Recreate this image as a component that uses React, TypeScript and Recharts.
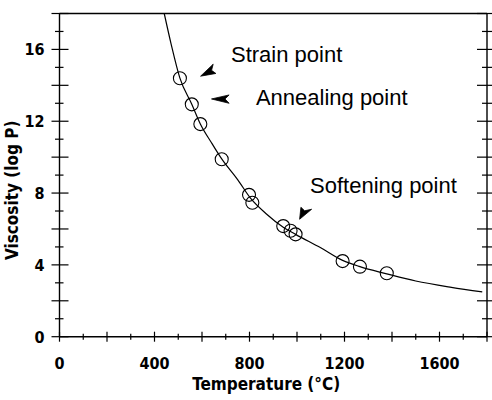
import { ComposedChart, Line, Scatter, XAxis, YAxis, ReferenceDot } from "recharts";

// axis ticks (every 100 °C / every 1 log P), labels on every 400 / 4
const xTicks = [0, 100, 200, 300, 400, 500, 600, 700, 800, 900, 1000, 1100, 1200, 1300, 1400, 1500, 1600, 1700, 1800];
const yTicks = [0, 1, 2, 3, 4, 5, 6, 7, 8, 9, 10, 11, 12, 13, 14, 15, 16, 17, 18];
const xLabels = [0, 400, 800, 1200, 1600];
const yLabels = [0, 4, 8, 12, 16];

// fitted curve
const curveT = [441, 470, 507, 557, 593, 640, 683, 750, 805, 870, 942, 994, 1100, 1192, 1265, 1378, 1500, 1650, 1780];
const curveV = [18, 16.3, 14.4, 12.95, 11.85, 10.8, 9.9, 8.75, 7.7, 6.85, 6.1, 5.7, 4.95, 4.25, 3.9, 3.5, 3.1, 2.75, 2.5];

// measured points
const pointT = [507, 557, 593, 683, 798, 812, 942, 973, 994, 1192, 1265, 1378];
const pointV = [14.39, 12.94, 11.84, 9.88, 7.9, 7.46, 6.16, 5.9, 5.7, 4.21, 3.9, 3.53];

const curve = curveT.map((t, i) => ({ t, v: curveV[i] }));
const points = pointT.map((t, i) => ({ t, v: pointV[i] }));

const tickFont = { fontFamily: "DejaVu Sans Condensed", fontSize: 16, fontWeight: 700 };
const noteFont = { fontFamily: "Liberation Sans", fontSize: 22 };

const BottomTick = (p: any) => {
  const v = p.payload.value;
  const h = v % 200 === 0 ? 5 : 3;
  return (
    <g>
      <line x1={p.x} x2={p.x} y1={p.y - h} y2={p.y + h} stroke="#000" strokeWidth={1.2} />
      {xLabels.includes(v) && (
        <text x={p.x} y={p.y + 32} textAnchor="middle" fill="#000" {...tickFont}>{v}</text>
      )}
    </g>
  );
};

const TopTick = (p: any) => {
  const v = p.payload.value;
  const h = v % 200 === 0 ? 6 : 3;
  return <line x1={p.x} x2={p.x} y1={p.y - h} y2={p.y + h} stroke="#000" strokeWidth={1.2} />;
};

const LeftTick = (p: any) => {
  const v = p.payload.value;
  const major = v % 2 === 0;
  return (
    <g>
      <line x1={p.x - (major ? 8 : 4.5)} x2={p.x + (major ? 9 : 4)} y1={p.y} y2={p.y} stroke="#000" strokeWidth={1.2} />
      {yLabels.includes(v) && (
        <text x={p.x - 15} y={p.y + 6} textAnchor="end" fill="#000" {...tickFont}>{v}</text>
      )}
    </g>
  );
};

const RightTick = (p: any) => {
  const v = p.payload.value;
  const major = v % 2 === 0;
  return <line x1={p.x - (major ? 10 : 5)} x2={p.x + 5} y1={p.y} y2={p.y} stroke="#000" strokeWidth={1.2} />;
};

const Ring = (p: any) => (
  <circle cx={p.cx} cy={p.cy} r={6.5} fill="none" stroke="#000" strokeWidth={1.1} />
);

const note = (label: string) => (p: any) => (
  <text x={p.cx} y={p.cy} fill="#000" {...noteFont}>{label}</text>
);

const arrow = (d: string) => (p: any) => (
  <path d={d} transform={`translate(${p.cx},${p.cy})`} fill="#000" stroke="#000" strokeWidth={0.8} />
);

export default function App() {
  return (
    <div style={{ position: "absolute", left: 0, top: 0, background: "#fff" }}>
      <ComposedChart width={492} height={400} margin={{ top: 0, right: 0, bottom: 0, left: 0 }}>
        <XAxis xAxisId="b" dataKey="t" type="number" domain={[0, 1800]} ticks={xTicks} interval={0}
          height={63.3} tickSize={0} tickMargin={0} tickLine={false} tick={<BottomTick />}
          axisLine={{ stroke: "#000", strokeWidth: 1.4 }} allowDataOverflow
          label={{ value: "Temperature (°C)", position: "insideBottom", offset: 10, dx: -7, fill: "#000", ...tickFont, fontSize: 17 }} />
        <XAxis xAxisId="t" orientation="top" type="number" domain={[0, 1800]} ticks={xTicks} interval={0}
          height={13.5} tickSize={0} tickMargin={0} tickLine={false} tick={<TopTick />}
          axisLine={{ stroke: "#000", strokeWidth: 1.4 }} allowDataOverflow />
        <YAxis yAxisId="l" dataKey="v" type="number" domain={[0, 18]} ticks={yTicks} interval={0}
          width={59.5} tickSize={0} tickMargin={0} tickLine={false} tick={<LeftTick />}
          axisLine={{ stroke: "#000", strokeWidth: 1.4 }} allowDataOverflow
          label={{ value: "Viscosity (log P)", angle: -90, position: "insideLeft", offset: 12, dy: 85, fill: "#000", ...tickFont, fontSize: 17 }} />
        <YAxis yAxisId="r" orientation="right" type="number" domain={[0, 18]} ticks={yTicks} interval={0}
          width={5} tickSize={0} tickMargin={0} tickLine={false} tick={<RightTick />}
          axisLine={{ stroke: "#000", strokeWidth: 1.4 }} allowDataOverflow />

        <Line xAxisId="b" yAxisId="l" data={curve} dataKey="v" type="monotone" stroke="#000"
          strokeWidth={1.2} dot={false} activeDot={false} isAnimationActive={false} />
        <Scatter xAxisId="b" yAxisId="l" data={points} dataKey="v" shape={<Ring />} isAnimationActive={false} />

        <ReferenceDot xAxisId="b" yAxisId="l" x={722} y={15.3} ifOverflow="visible" shape={note("Strain point")} />
        <ReferenceDot xAxisId="b" yAxisId="l" x={827} y={12.9} ifOverflow="visible" shape={note("Annealing point")} />
        <ReferenceDot xAxisId="b" yAxisId="l" x={1055} y={8.0} ifOverflow="visible" shape={note("Softening point")} />

        <ReferenceDot xAxisId="b" yAxisId="l" x={594} y={14.51} ifOverflow="visible" shape={arrow("M0,0 L12.6,-12 L11,-5.8 L15.3,-2.7 Z")} />
        <ReferenceDot xAxisId="b" yAxisId="l" x={640} y={13.24} ifOverflow="visible" shape={arrow("M0,0 L17.6,-4 L13.5,0 L17.6,4.3 Z")} />
        <ReferenceDot xAxisId="b" yAxisId="l" x={1011} y={6.54} ifOverflow="visible" shape={arrow("M0,0 L1.3,-12 L5,-8.5 L12,-10 Z")} />
      </ComposedChart>
    </div>
  );
}
